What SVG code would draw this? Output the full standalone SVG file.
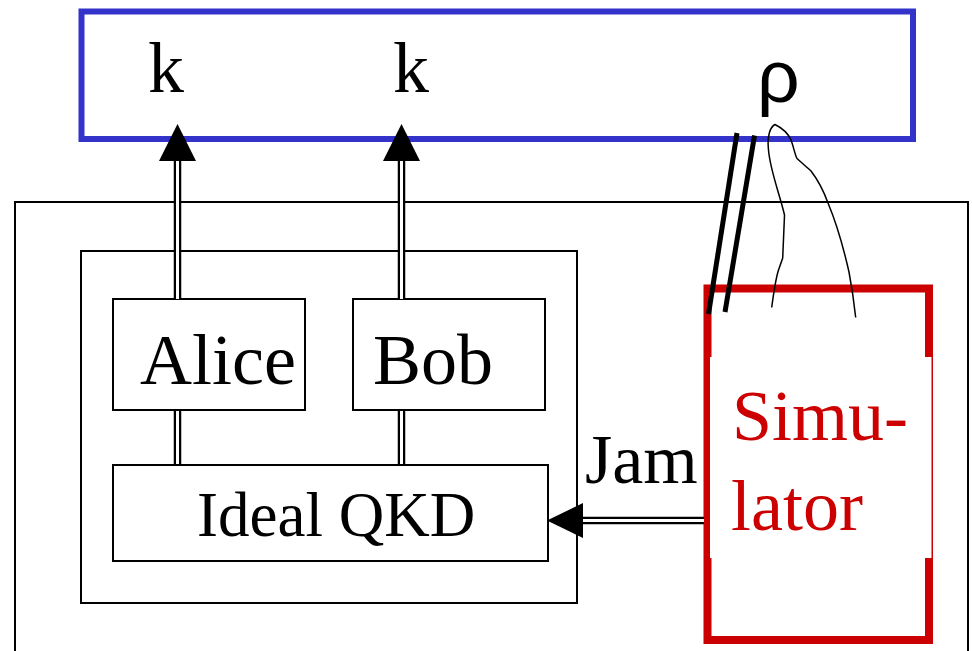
<svg xmlns="http://www.w3.org/2000/svg" width="972" height="651" viewBox="0 0 972 651">
  <style>
    .box { fill: #ffffff; stroke: #000000; stroke-width: 2; }
    .serif { font-family: "Liberation Serif", "Times New Roman", serif; fill: #000000; }
    .big { font-size: 72px; }
    .mid { font-size: 70px; }
    .small { font-size: 63px; }
    .red { fill: #cc0000; }
    .sans { font-family: "Liberation Sans", Arial, sans-serif; fill: #000000; font-size: 75px; }
    .dbl-outer { stroke: #000000; stroke-width: 7.5; fill: none; }
    .dbl-inner { stroke: #ffffff; stroke-width: 3; fill: none; }
    .head { fill: #000000; }
  </style>
  <rect width="972" height="651" fill="#ffffff"/>

  <!-- outer environment frame -->
  <g id="environment">
    <rect class="box" x="15" y="202" width="953" height="500"/>
  </g>

  <!-- ideal functionality wrapper -->
  <g id="ideal-world">
    <rect class="box" x="81" y="251" width="496" height="352"/>
  </g>

  <!-- key output panel -->
  <g id="output-panel">
    <rect x="81.5" y="11.5" width="831.5" height="127.5" fill="none" stroke="#3333cc" stroke-width="6"/>
    <text class="serif big" x="148" y="92">k</text>
    <text class="serif big" x="393" y="92">k</text>
    <text class="sans" x="757" y="102">ρ</text>
  </g>

  <g id="alice">
    <rect class="box" x="113" y="299" width="192" height="111"/>
    <text class="serif big" x="140" y="384">Alice</text>
  </g>

  <g id="bob">
    <rect class="box" x="353" y="299" width="192" height="111"/>
    <text class="serif big" x="373" y="384">Bob</text>
  </g>

  <g id="ideal-qkd">
    <rect class="box" x="113" y="465" width="435" height="96"/>
    <text class="serif small" x="197" y="536">Ideal QKD</text>
  </g>

  <g id="simulator">
    <rect x="707.5" y="288.5" width="221.5" height="351.5" fill="none" stroke="#cc0000" stroke-width="8"/>
    <rect x="710" y="357" width="221.5" height="201" fill="#ffffff"/>
    <text class="serif big red" x="732" y="440">Simu-</text>
    <text class="serif big red" x="731" y="530">lator</text>
  </g>

  <!-- connectors -->
  <g id="connectors">
    <!-- Alice key output -->
    <line class="dbl-outer" x1="177.5" y1="158" x2="177.5" y2="299"/>
    <line class="dbl-inner" x1="177.5" y1="160" x2="177.5" y2="299"/>
    <polygon class="head" points="177.5,124 159,161 196,161"/>
    <line class="dbl-outer" x1="177.5" y1="410" x2="177.5" y2="465"/>
    <line class="dbl-inner" x1="177.5" y1="411" x2="177.5" y2="464"/>

    <!-- Bob key output -->
    <line class="dbl-outer" x1="401.5" y1="158" x2="401.5" y2="299"/>
    <line class="dbl-inner" x1="401.5" y1="160" x2="401.5" y2="299"/>
    <polygon class="head" points="401.5,124 383,161 420,161"/>
    <line class="dbl-outer" x1="401.5" y1="410" x2="401.5" y2="465"/>
    <line class="dbl-inner" x1="401.5" y1="411" x2="401.5" y2="464"/>

    <!-- Jam input -->
    <line class="dbl-outer" x1="580" y1="520.5" x2="704" y2="520.5"/>
    <line class="dbl-inner" x1="582" y1="520.5" x2="704" y2="520.5"/>
    <polygon class="head" points="547,520.5 583,503 583,538"/>
    <text class="serif mid" x="585" y="483">Jam</text>

    <!-- classical channel to simulator -->
    <line x1="737" y1="133" x2="708.5" y2="314" stroke="#000000" stroke-width="5"/>
    <line x1="754.5" y1="135.5" x2="725" y2="312" stroke="#000000" stroke-width="5"/>

    <!-- quantum state handed to simulator -->
    <path d="M771.7,307.5 C774,290 776,278 778.5,270 L782.7,258 C783.5,240 784,228 784.5,215 C780,195 770,170 768.5,150 C767,136 770,127 775,124.5 C782,128 788,133 791,140 C794,148 795,155 797,158.5 C803,164 808,168 811,171 C818,180 824,192 828,203 C836,222 844,250 849,272 C852,288 854,302 855.7,317.5" fill="none" stroke="#000000" stroke-width="1.5"/>
  </g>
</svg>
